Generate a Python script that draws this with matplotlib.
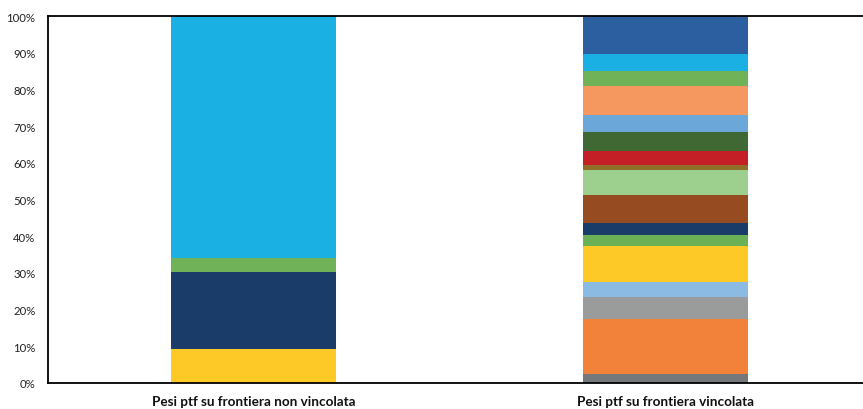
import matplotlib
matplotlib.use("Agg")
import matplotlib.pyplot as plt
import numpy as np

categories = ["Pesi ptf su frontiera non vincolata", "Pesi ptf su frontiera vincolata"]

# weights (%) per asset, [unconstrained, constrained]
w01 = [0.0, 2.45]
w02 = [0.0, 15.07]
w03 = [0.0, 6.0]
w04 = [0.0, 3.94]
w05 = [9.3, 9.9]
w06 = [0.0, 2.92]
w07 = [20.9, 3.35]
w08 = [0.0, 7.6]
w09 = [0.0, 6.8]
w10 = [0.0, 1.45]
w11 = [0.0, 3.8]
w12 = [0.0, 5.1]
w13 = [0.0, 4.7]
w14 = [0.0, 7.9]
w15 = [3.9, 4.0]
w16 = [65.9, 4.6]
w17 = [0.0, 10.42]

series = [w01, w02, w03, w04, w05, w06, w07, w08, w09, w10, w11, w12, w13, w14, w15, w16, w17]
colors = ["#75787B", "#F2823A", "#9A9C9C", "#8BBBE2", "#FDC926", "#6AB155", "#193C69",
          "#974B20", "#9DD08F", "#8F6E2A", "#C41F26", "#3F6832", "#6BA7D8", "#F5985F",
          "#6FB257", "#1BB0E4", "#2B5F9F"]

ytick_labels = ["0%", "10%", "20%", "30%", "40%", "50%", "60%", "70%", "80%", "90%", "100%"]

fig = plt.figure(figsize=(8.63, 4.10), dpi=100)
ax = fig.add_axes([48/863, 26/410, 1 - 48/863, (384-17)/410])

x = np.arange(len(categories))
bottom = np.zeros(len(categories))
for vals, c in zip(series, colors):
    v = np.array(vals)
    ax.bar(x, v, width=0.401, bottom=bottom, color=c, edgecolor="none")
    bottom += v

ax.set_xlim(-0.5, 1.481)
ax.set_ylim(0, 100)
ax.set_yticks(np.arange(0, 101, 10))
ax.set_yticklabels(ytick_labels, fontsize=8.2, family="Lato", color="#222222")
ax.set_xticks(x)
ax.set_xticklabels(categories, fontsize=9.7, fontweight="bold", family="Lato", color="#111111")
ax.tick_params(axis="both", length=0)
ax.tick_params(axis="y", pad=9)
ax.tick_params(axis="x", pad=9)
for s in ["left", "bottom", "top"]:
    ax.spines[s].set_linewidth(1.3)
    ax.spines[s].set_color("black")
ax.spines["right"].set_visible(False)

fig.savefig("out.png", dpi=100)
